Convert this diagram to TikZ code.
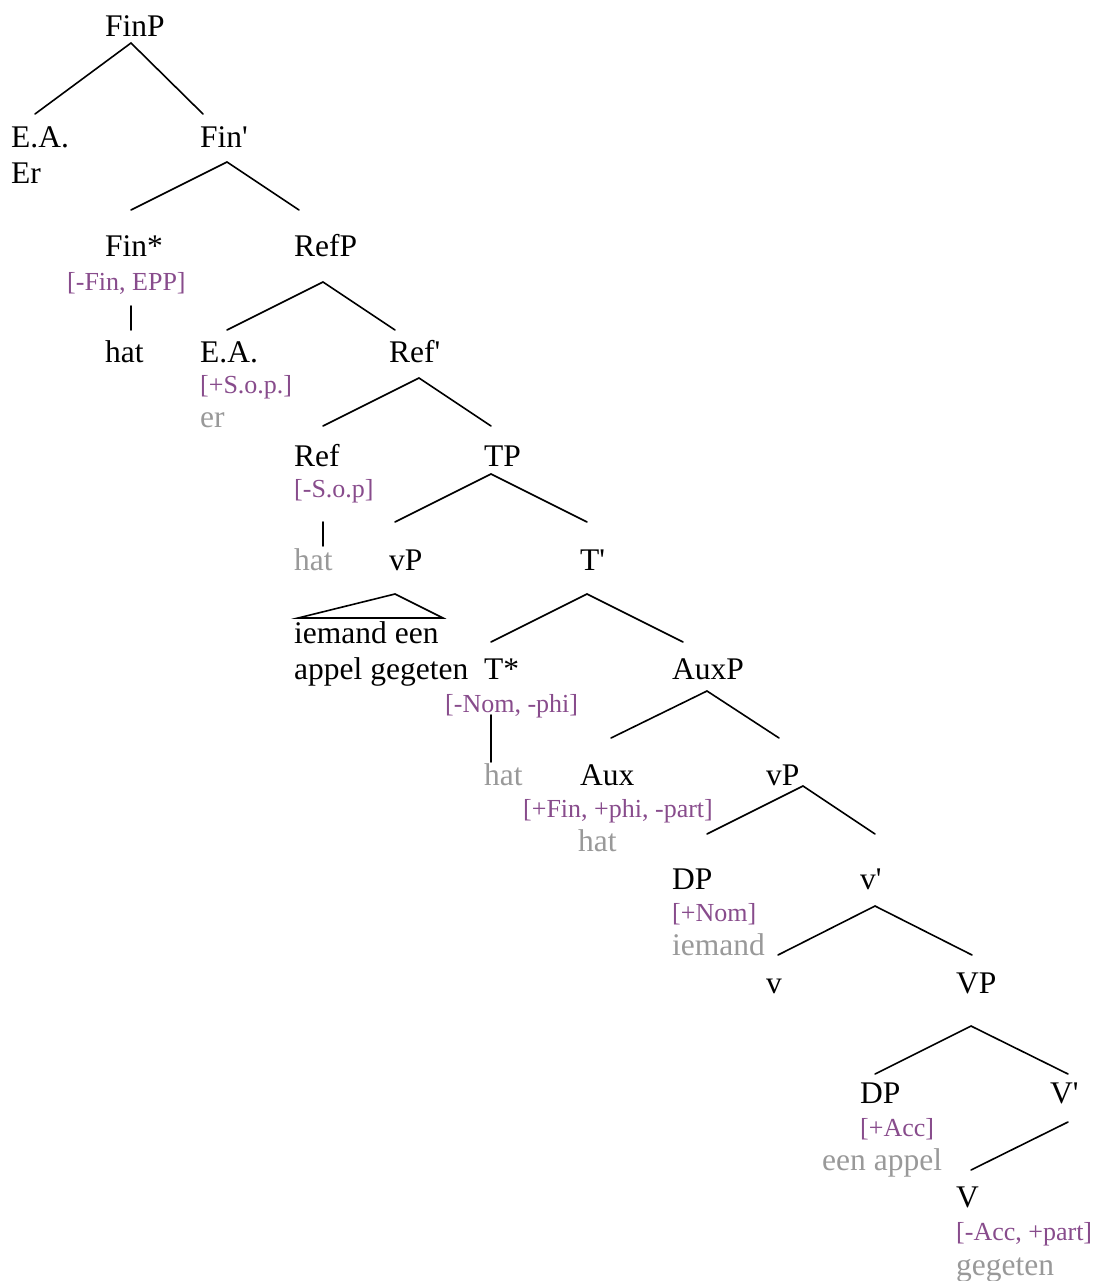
\documentclass[tikz,border=0pt]{standalone}
\usepackage{fontspec}
\setmainfont{Liberation Serif}
\definecolor{featpurple}{RGB}{136,76,140}
\definecolor{spellgrey}{RGB}{153,153,153}
\tikzset{
	cat/.style={anchor=base west, inner sep=0pt, font=\fontsize{31.5}{36}\selectfont},
	feat/.style={cat, text=featpurple, font=\fontsize{26}{30}\selectfont},
	spell/.style={cat, text=spellgrey},
	branch/.style={line width=1.6pt, line cap=round}
}
\begin{document}
\begin{tikzpicture}[x=1pt, y=-1pt]
	\useasboundingbox (0,0) rectangle (1094,1281);
	
	\node[cat] (finP) at (105,37) {FinP};
	\node[cat] (eaA) at (11,148) {E.A.};
	\node[cat] (erA) at (11,184) {Er};
	\node[cat] (finBar) at (200,148) {Fin\textquotesingle};
	
	\node[cat] (finStar) at (105,257) {Fin*};
	\node[feat] (finFeat) at (67,290) {[-Fin, EPP]};
	\node[cat] (hatA) at (105,362) {hat};
	\node[cat] (refP) at (294,257) {RefP};
	
	\node[cat] (eaB) at (200,362) {E.A.};
	\node[feat] (sopFeat) at (200,393) {[+S.o.p.]};
	\node[spell] (erB) at (200,427) {er};
	\node[cat] (refBar) at (389,362) {Ref\textquotesingle};
	
	\node[cat] (ref) at (294,466) {Ref};
	\node[feat] (refFeat) at (294,497) {[-S.o.p]};
	\node[spell] (hatB) at (294,570) {hat};
	\node[cat] (tP) at (484,466) {TP};
	
	\node[cat] (vPa) at (389,570) {vP};
	\node[cat] (vpTextA) at (294,643) {iemand een};
	\node[cat] (vpTextB) at (294,679) {appel gegeten};
	\node[cat] (tBar) at (580,570) {T\textquotesingle};
	
	\node[cat] (tStar) at (484,679) {T*};
	\node[feat] (tFeat) at (445,712) {[-Nom, -phi]};
	\node[spell] (hatC) at (484,785) {hat};
	\node[cat] (auxP) at (672,679) {AuxP};
	
	\node[cat] (aux) at (580,785) {Aux};
	\node[feat] (auxFeat) at (523,817) {[+Fin, +phi, -part]};
	\node[spell] (hatD) at (578,851) {hat};
	\node[cat] (vPb) at (766,785) {vP};
	
	\node[cat] (dpA) at (672,889) {DP};
	\node[feat] (nomFeat) at (672,921) {[+Nom]};
	\node[spell] (iemand) at (672,955) {iemand};
	\node[cat] (vBar) at (860,889) {v\textquotesingle};
	
	\node[cat] (vSmall) at (766,993) {v};
	\node[cat] (vPc) at (956,993) {VP};
	
	\node[cat] (dpB) at (860,1103) {DP};
	\node[feat] (accFeat) at (860,1136) {[+Acc]};
	\node[spell] (eenAppel) at (822,1170) {een appel};
	\node[cat] (vBarBig) at (1050,1103) {V\textquotesingle};
	
	\node[cat] (vBig) at (956,1207) {V};
	\node[feat] (vFeat) at (956,1240) {[-Acc, +part]};
	\node[spell] (gegeten) at (956,1275) {gegeten};
	
	% branching points
	\coordinate (finP-b) at (131,43);
	\coordinate (eaA-t) at (35,114);
	\coordinate (finBar-t) at (203,114);
	\coordinate (finBar-b) at (227,162);
	\coordinate (finStar-t) at (131,210);
	\coordinate (refP-t) at (299,210);
	\coordinate (finFeat-b) at (131,306);
	\coordinate (hatA-t) at (131,330);
	\coordinate (refP-b) at (323,282);
	\coordinate (eaB-t) at (227,330);
	\coordinate (refBar-t) at (395,330);
	\coordinate (refBar-b) at (419,378);
	\coordinate (ref-t) at (323,426);
	\coordinate (tP-t) at (491,426);
	\coordinate (refFeat-b) at (323,522);
	\coordinate (hatB-t) at (323,546);
	\coordinate (tP-b) at (491,474);
	\coordinate (vPa-t) at (395,522);
	\coordinate (tBar-t) at (587,522);
	\coordinate (vPa-b) at (395,594);
	\coordinate (vpText-l) at (298,618);
	\coordinate (vpText-r) at (443,618);
	\coordinate (tBar-b) at (587,594);
	\coordinate (tStar-t) at (491,642);
	\coordinate (auxP-t) at (683,642);
	\coordinate (tFeat-b) at (491,715);
	\coordinate (hatC-t) at (491,762);
	\coordinate (auxP-b) at (707,691);
	\coordinate (aux-t) at (611,738);
	\coordinate (vPb-t) at (779,738);
	\coordinate (vPb-b) at (803,786);
	\coordinate (dpA-t) at (707,834);
	\coordinate (vBar-t) at (875,834);
	\coordinate (vBar-b) at (875,906);
	\coordinate (vSmall-t) at (778,955);
	\coordinate (vPc-t) at (972,955);
	\coordinate (vPc-b) at (971,1026);
	\coordinate (dpB-t) at (875,1074);
	\coordinate (vBarBig-t) at (1068,1074);
	\coordinate (vBarBig-b) at (1068,1122);
	\coordinate (vBig-t) at (971,1170);
	
	\draw[branch] (eaA-t) -- (finP-b) -- (finBar-t);
	\draw[branch] (finStar-t) -- (finBar-b) -- (refP-t);
	\draw[branch] (finFeat-b) -- (hatA-t);
	\draw[branch] (eaB-t) -- (refP-b) -- (refBar-t);
	\draw[branch] (ref-t) -- (refBar-b) -- (tP-t);
	\draw[branch] (refFeat-b) -- (hatB-t);
	\draw[branch] (vPa-t) -- (tP-b) -- (tBar-t);
	\draw[branch] (vPa-b) -- (vpText-l) -- (vpText-r) -- cycle;
	\draw[branch] (tStar-t) -- (tBar-b) -- (auxP-t);
	\draw[branch] (tFeat-b) -- (hatC-t);
	\draw[branch] (aux-t) -- (auxP-b) -- (vPb-t);
	\draw[branch] (dpA-t) -- (vPb-b) -- (vBar-t);
	\draw[branch] (vSmall-t) -- (vBar-b) -- (vPc-t);
	\draw[branch] (dpB-t) -- (vPc-b) -- (vBarBig-t);
	\draw[branch] (vBarBig-b) -- (vBig-t);
\end{tikzpicture}
\end{document}
